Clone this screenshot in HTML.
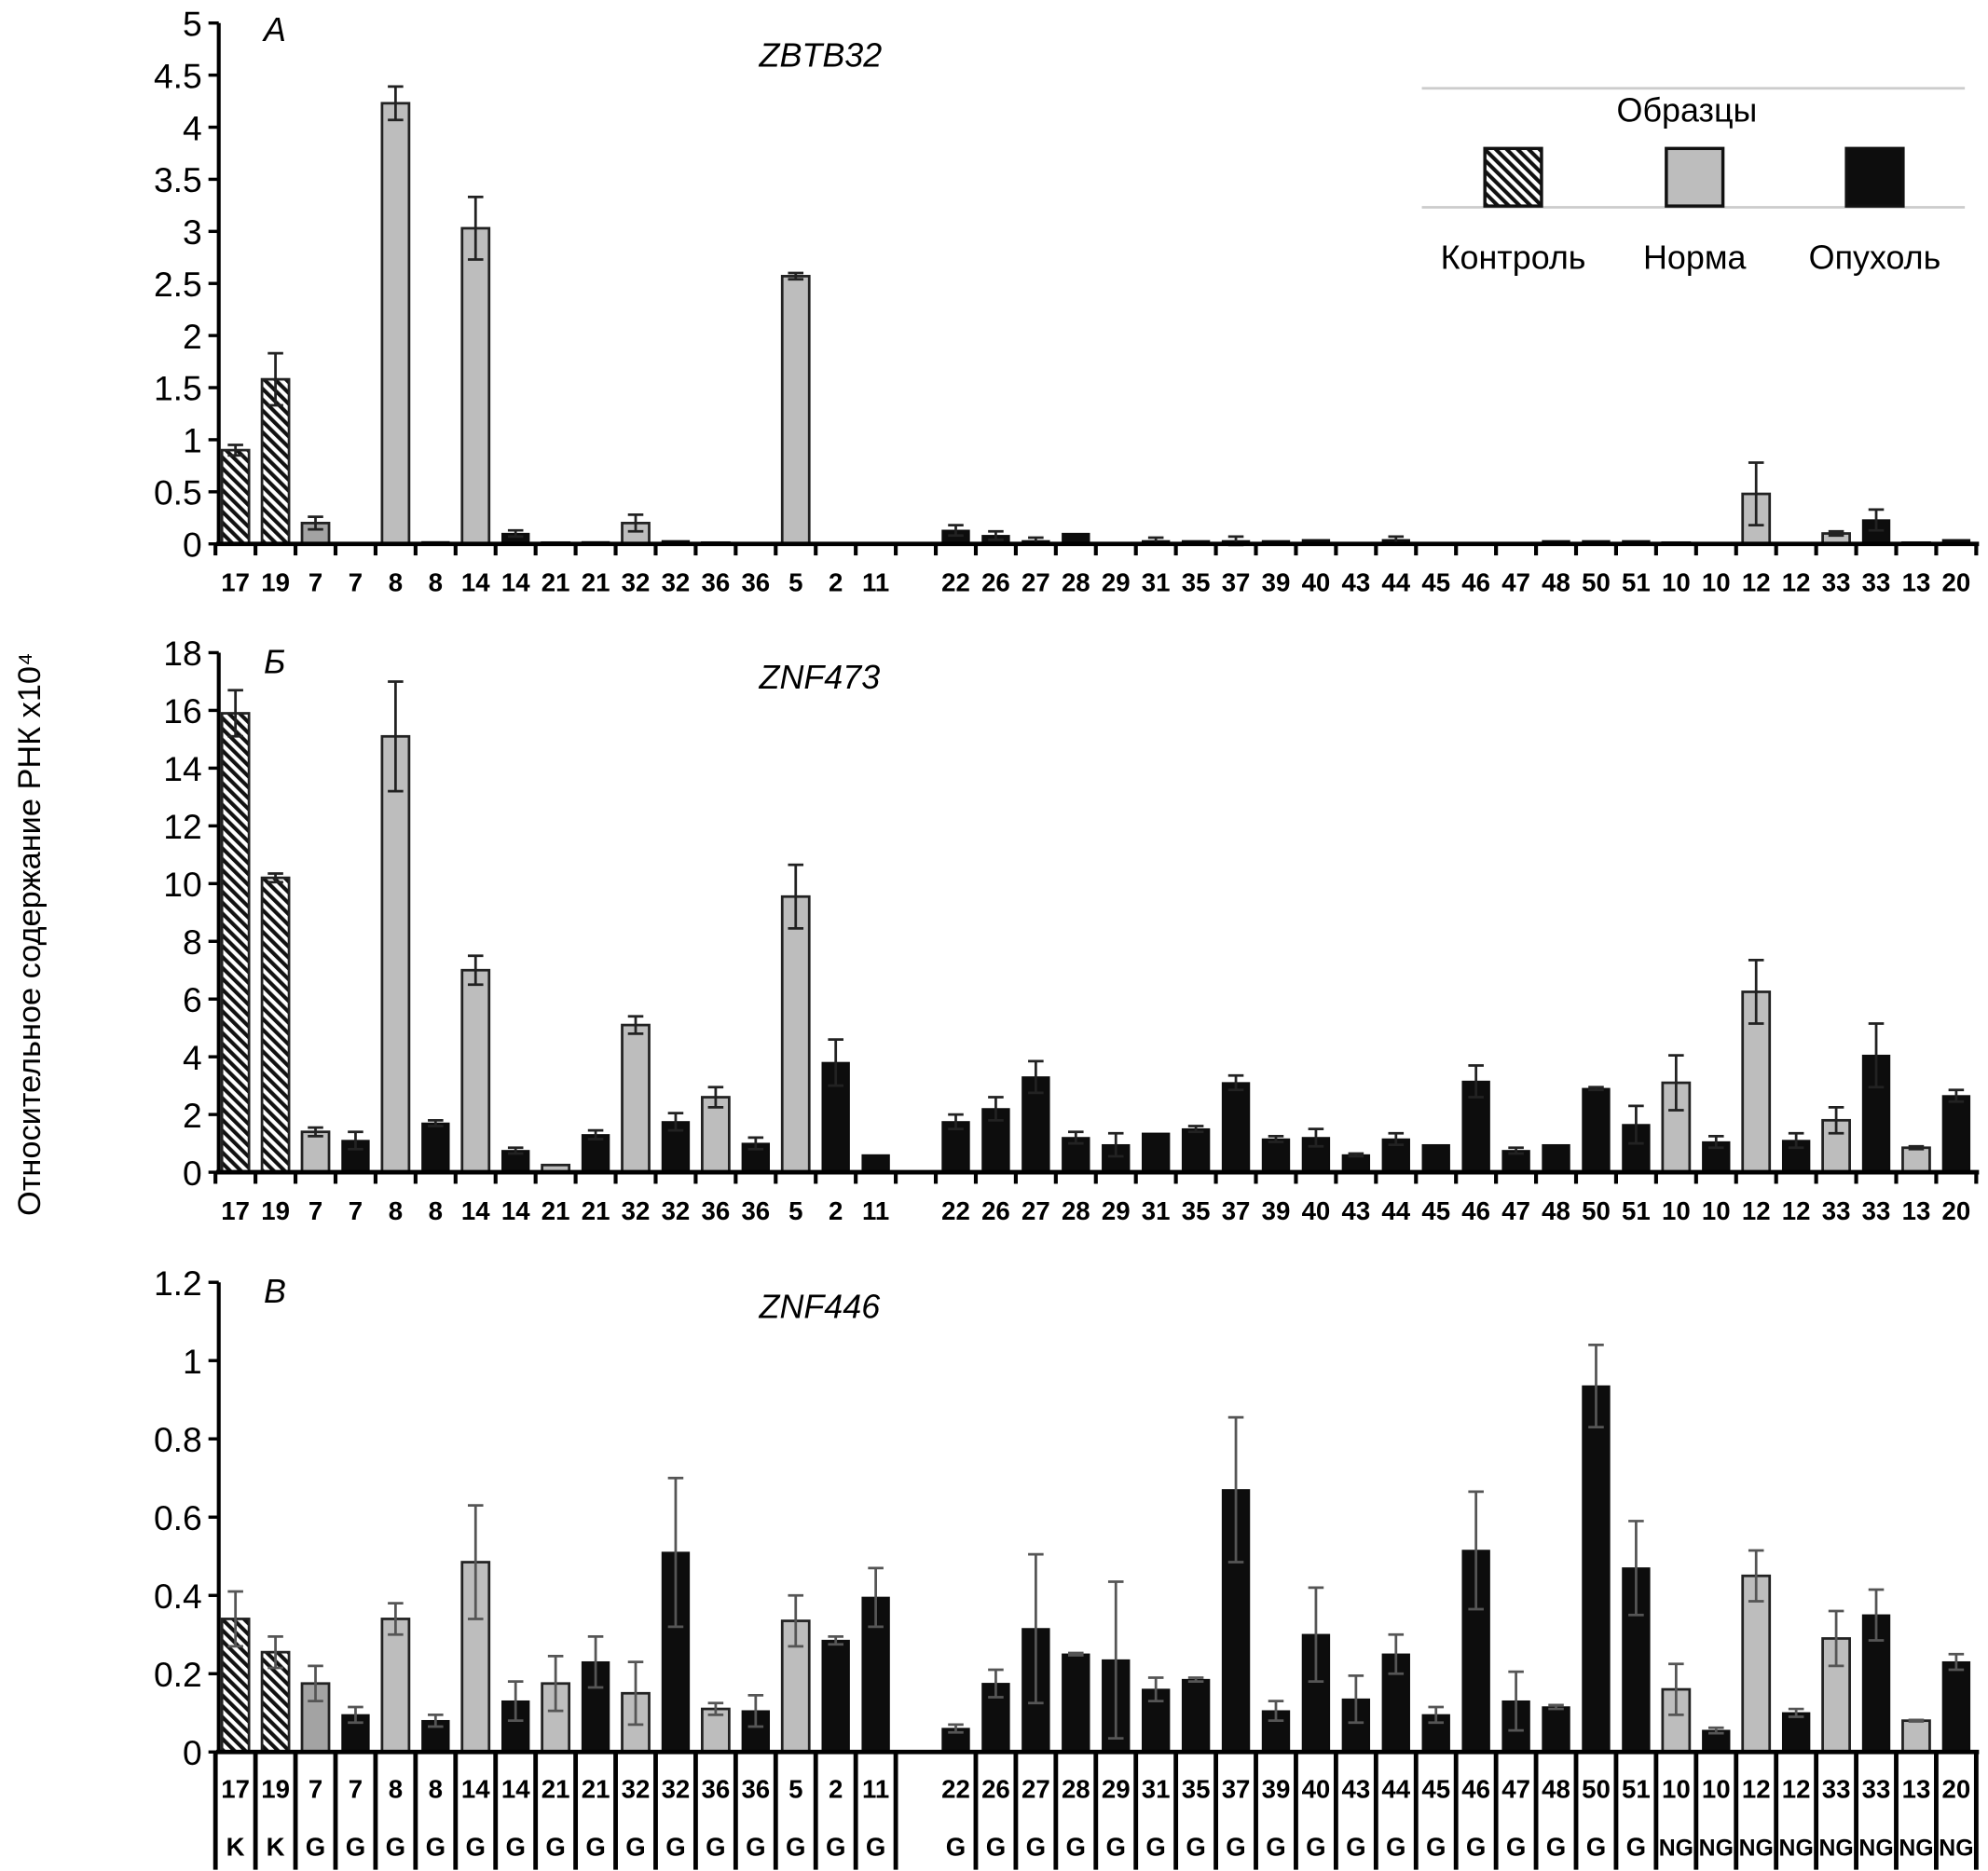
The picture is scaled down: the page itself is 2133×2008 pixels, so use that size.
<!DOCTYPE html>
<html><head><meta charset="utf-8"><style>
html,body{margin:0;padding:0;background:#fff}
svg{display:block}
text{font-family:"Liberation Sans","DejaVu Sans",sans-serif}
</style></head><body>
<svg id="chart" width="2133" height="2008" viewBox="0 0 1545 1462" preserveAspectRatio="none" xmlns="http://www.w3.org/2000/svg">
<defs>
<pattern id="hatch" patternUnits="userSpaceOnUse" width="6" height="6" patternTransform="rotate(-45)">
<rect width="6" height="6" fill="#fff"/><rect width="3" height="6" fill="#111"/>
</pattern>
</defs>
<g id="root"></g>
</svg>
<script>
const categories = ["17","19","7","7","8","8","14","14","21","21","32","32","36","36","5","2","11","","22","26","27","28","29","31","35","37","39","40","43","44","45","46","47","48","50","51","10","10","12","12","33","33","13","20"];
const groupLetters = ["K","K","G","G","G","G","G","G","G","G","G","G","G","G","G","G","G","","G","G","G","G","G","G","G","G","G","G","G","G","G","G","G","G","G","G","NG","NG","NG","NG","NG","NG","NG","NG"];
const typesA = ["k","k","d","t","n","t","n","t","n","t","n","t","n","t","n","t","t","","t","t","t","t","t","t","t","t","t","t","t","t","t","t","t","t","t","t","n","t","n","t","n","t","n","t"];
const typesB = ["k","k","n","t","n","t","n","t","n","t","n","t","n","t","n","t","t","","t","t","t","t","t","t","t","t","t","t","t","t","t","t","t","t","t","t","n","t","n","t","n","t","n","t"];
const typesC = ["k","k","d","t","n","t","n","t","n","t","n","t","n","t","n","t","t","","t","t","t","t","t","t","t","t","t","t","t","t","t","t","t","t","t","t","n","t","n","t","n","t","n","t"];
const valuesA = [0.9,1.58,0.2,0.01,4.23,0.02,3.03,0.1,0,0.02,0.2,0.03,0,0,2.57,0.01,0,null,0.13,0.08,0.03,0.1,0.01,0.03,0.03,0.03,0.03,0.04,0,0.04,0.01,0,0.01,0.03,0.03,0.03,0.01,0.01,0.48,0,0.1,0.23,0.01,0.04];
const errorsA = [0.05,0.25,0.06,0,0.16,0,0.3,0.03,0,0,0.08,0,0,0,0.03,0,0,null,0.05,0.04,0.03,0,0,0.03,0,0.04,0,0,0,0.03,0,0,0,0,0,0,0,0,0.3,0,0.02,0.1,0,0];
const valuesB = [15.9,10.2,1.4,1.1,15.1,1.7,7.0,0.75,0.25,1.3,5.1,1.75,2.6,1.0,9.55,3.8,0.6,null,1.75,2.2,3.3,1.2,0.95,1.35,1.5,3.1,1.15,1.2,0.6,1.15,0.95,3.15,0.75,0.95,2.9,1.65,3.1,1.05,6.25,1.1,1.8,4.05,0.85,2.65];
const errorsB = [0.8,0.15,0.15,0.3,1.9,0.1,0.5,0.1,0,0.15,0.3,0.3,0.35,0.2,1.1,0.8,0,null,0.25,0.4,0.55,0.2,0.4,0,0.1,0.25,0.1,0.3,0.05,0.2,0,0.55,0.1,0,0.05,0.65,0.95,0.2,1.1,0.25,0.45,1.1,0.05,0.2];
const valuesC = [0.34,0.255,0.175,0.095,0.34,0.08,0.485,0.13,0.175,0.23,0.15,0.51,0.11,0.105,0.335,0.285,0.395,null,0.06,0.175,0.315,0.25,0.235,0.16,0.185,0.67,0.105,0.30,0.135,0.25,0.095,0.515,0.13,0.115,0.935,0.47,0.16,0.055,0.45,0.10,0.29,0.35,0.08,0.23];
const errorsC = [0.07,0.04,0.045,0.02,0.04,0.015,0.145,0.05,0.07,0.065,0.08,0.19,0.015,0.04,0.065,0.01,0.075,null,0.01,0.035,0.19,0.003,0.2,0.03,0.005,0.185,0.025,0.12,0.06,0.05,0.02,0.15,0.075,0.005,0.105,0.12,0.065,0.007,0.065,0.01,0.07,0.065,0.002,0.02];
const ticksA = ["0","0.5","1","1.5","2","2.5","3","3.5","4","4.5","5"];
const ticksB = ["0","2","4","6","8","10","12","14","16","18"];
const ticksC = ["0","0.2","0.4","0.6","0.8","1","1.2"];

const NS="http://www.w3.org/2000/svg";
const root=document.getElementById('root');
function mk(tag,attrs,parent,txt){const e=document.createElementNS(NS,tag);for(const k in attrs)e.setAttribute(k,attrs[k]);if(txt!==undefined)e.textContent=txt;(parent||root).appendChild(e);return e;}
const X0=170, X1=1537, C0=183, STEP=31.1, BW=21;
function xScale(i){return C0+i*STEP;}
const fills={k:"url(#hatch)",n:"#bdbdbd",d:"#a3a3a3",t:"#0d0d0d"};

function panel(name,vals,errs,types,ticks,y0,ytop,max,table,errColor){
  const g=mk('g',{});  
  const yS=v=>y0-(v/max)*(y0-ytop);
  const yAx=mk('line',{x1:X0,y1:ytop,x2:X0,y2:y0,stroke:'#000','stroke-width':3},g);
   
  ticks.forEach(t=>{const v=parseFloat(t);const y=yS(v);
    mk('line',{x1:X0-8,y1:y,x2:X0,y2:y,stroke:'#000','stroke-width':2.5},g);
    const tl=mk('text',{x:X0-13,y:y+10,'text-anchor':'end','font-size':27},g,t);
     });
  vals.forEach((v,i)=>{if(v===null)return;const x=xScale(i);const ty=types[i];
    const h=Math.max(y0-yS(v),1);
    const r=mk('rect',{x:x-BW/2,y:y0-h,width:BW,height:h,fill:fills[ty],stroke:ty==='t'?'#0d0d0d':'#222','stroke-width':ty==='t'?1:2},g);
     
    const e=errs[i]; if(e>0){const a=yS(v+e),b=yS(v-e);
      const eb=mk('path',{d:`M${x},${a}V${b}M${x-6},${a}H${x+6}M${x-6},${b}H${x+6}`,stroke:errColor,'stroke-width':2,fill:'none'},g);
       }
  });
  const xAx=mk('line',{x1:X0-2,y1:y0,x2:X0+1368,y2:y0,stroke:'#000','stroke-width':3.5},g);
   
  if(!table){
    for(let i=0;i<=categories.length;i++){const x=xScale(i)-STEP/2;mk('line',{x1:x,y1:y0,x2:x,y2:y0+9,stroke:'#000','stroke-width':3},g);}
    categories.forEach((c,i)=>{if(!c)return;const t=mk('text',{x:xScale(i),y:y0+37,'text-anchor':'middle','font-size':20,'font-weight':'bold'},g,c);
       });
  } else {
    for(let i=0;i<=categories.length;i++){if(i===18)continue;const x=xScale(i)-STEP/2;mk('line',{x1:x,y1:y0,x2:x,y2:y0+92,stroke:'#000','stroke-width':3.5},g);}
    categories.forEach((c,i)=>{if(!c)return;
      const t=mk('text',{x:xScale(i),y:y0+36,'text-anchor':'middle','font-size':20,'font-weight':'bold'},g,c);
       
      const l=mk('text',{x:xScale(i),y:y0+81,'text-anchor':'middle','font-size':groupLetters[i]==='NG'?18:20,'font-weight':'bold'},g,groupLetters[i]);
       });
  }
}
panel('zbtb32',valuesA,errorsA,typesA,ticksA,425,18,5,false,'#222');
panel('znf473',valuesB,errorsB,typesB,ticksB,916,510,18,false,'#222');
panel('znf446',valuesC,errorsC,typesC,ticksC,1369,1002,1.2,true,'#555');

function label(txt,x,y,size,name,extra){const t=mk('text',Object.assign({x:x,y:y,'font-size':size},extra||{}),root,txt);return t;}
label('А',205,32,26,'panel-a-letter',{'font-style':'italic'});
label('ZBTB32',590,52,26,'panel-a-title',{'font-style':'italic'});
label('Б',205,526,26,'panel-b-letter',{'font-style':'italic'});
label('ZNF473',590,538,26,'panel-b-title',{'font-style':'italic'});
label('В',205,1018,26,'panel-c-letter',{'font-style':'italic'});
label('ZNF446',590,1030,26,'panel-c-title',{'font-style':'italic'});
label('Относительное содержание РНК х10⁴',0,0,25,'y-axis-title',{transform:'translate(31,730) rotate(-90)','text-anchor':'middle'});

const lg=mk('g',{});  
mk('line',{x1:1105,y1:69,x2:1527,y2:69,stroke:'#ccc','stroke-width':2},lg);
mk('line',{x1:1105,y1:162,x2:1527,y2:162,stroke:'#ccc','stroke-width':2},lg);
const lt=mk('text',{x:1311,y:95,'text-anchor':'middle','font-size':26},lg,'Образцы');  
[[1176,'k','Контроль'],[1317,'n','Норма'],[1457,'t','Опухоль']].forEach(d=>{
  const r=mk('rect',{x:d[0]-22,y:116,width:44,height:45,fill:fills[d[1]],stroke:'#111','stroke-width':2.5},lg);
   
  const t=mk('text',{x:d[0],y:210,'text-anchor':'middle','font-size':26},lg,d[2]);
   
});
</script>
</body></html>
